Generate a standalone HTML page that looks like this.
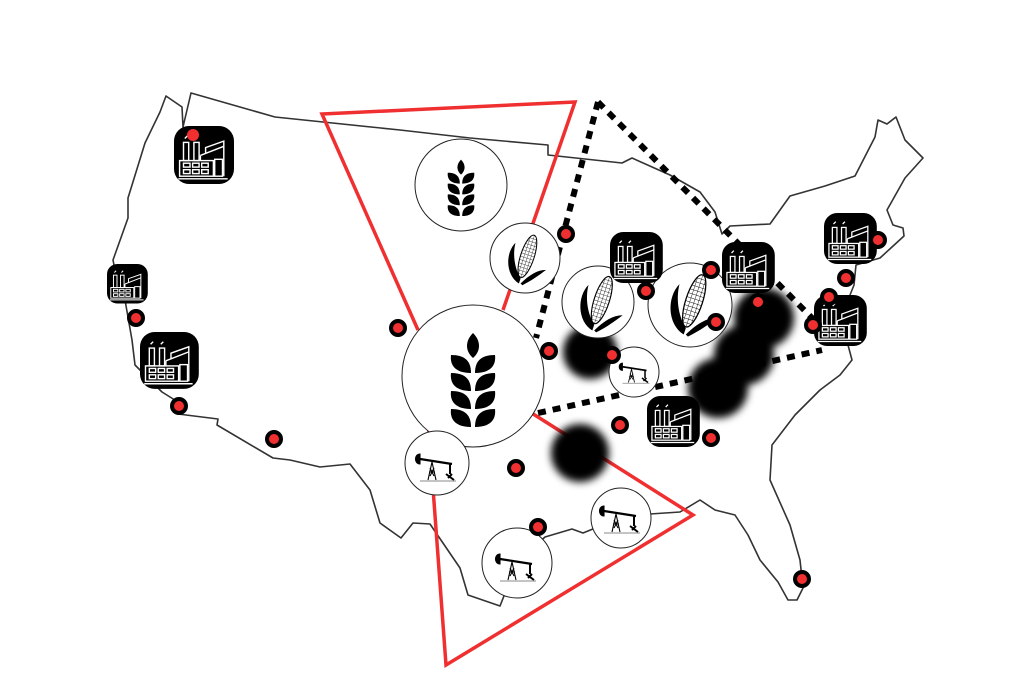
<!DOCTYPE html>
<html><head><meta charset="utf-8"><style>html,body{margin:0;padding:0;background:#fff}svg{display:block}</style></head>
<body>
<svg width="1024" height="682" viewBox="0 0 1024 682" xmlns="http://www.w3.org/2000/svg">
<defs>
<filter id="blur" x="-50%" y="-50%" width="200%" height="200%"><feGaussianBlur stdDeviation="4"/></filter>
<g id="wheat">
<path d="M0,-44 C8,-36 8,-26 0,-19 C-8,-26 -8,-36 0,-44Z" fill="#000"/>
<g id="lp"><path d="M-2,-4 C-20,-4 -23,-14 -22,-22 C-8,-22 -2,-16 -2,-4Z" fill="#000"/>
<path d="M2,-4 C20,-4 23,-14 22,-22 C8,-22 2,-16 2,-4Z" fill="#000"/></g>
<use href="#lp" y="18"/><use href="#lp" y="36"/><use href="#lp" y="54"/>
</g>
<g id="fac">
<rect x="0" y="0" width="60" height="58" rx="15" fill="#000"/>
<g fill="none" stroke="#fff" stroke-width="1.1" transform="translate(29,32) scale(1.3) translate(-28,-32)">
<rect x="13" y="20" width="4" height="14"/><rect x="21" y="20" width="4" height="14"/>
<path d="M14,17 l2,-2 M22,17 l2,-2"/>
<path d="M26,30 L44,23 L44,46 M26,34 L26,30 M30,28 L30,24 L44,19 L44,23"/>
<rect x="10" y="34" width="26" height="12"/>
<rect x="13" y="36" width="5" height="3"/><rect x="20" y="36" width="5" height="3"/><rect x="27" y="36" width="5" height="3"/>
<rect x="13" y="41" width="5" height="3"/><rect x="20" y="41" width="5" height="3"/><rect x="27" y="41" width="5" height="3"/>
<rect x="37" y="33" width="6" height="13"/>
<path d="M9,48 L47,48"/>
</g>
</g>
<pattern id="hatch" width="4" height="4" patternUnits="userSpaceOnUse"><path d="M0,0 L4,0 M0,0 L0,4" stroke="#000" stroke-width="0.8"/></pattern>
<g id="corn">
<path d="M-6,30 C-22,20 -22,-6 -10,-18 C-14,-2 -10,14 -4,24 Z" fill="#000"/>
<ellipse cx="4" cy="-2" rx="8" ry="26" transform="rotate(18 4 -2)" fill="url(#hatch)" stroke="#000" stroke-width="1.2"/>
<path d="M-4,30 C6,20 16,14 26,14 C18,20 10,26 -2,32 Z" fill="#000"/>
</g>
<g id="oil" fill="none" stroke="#000" stroke-width="1.1">
<path d="M-18,-12 C-24,-12 -24,-2 -18,-2 Z" fill="#000"/>
<path d="M-18,-7 L14,-2" stroke-width="2.2"/>
<path d="M-10,14 L-6,-4 L-2,14 M-9,6 L-3,6 M-8,10 L-4,2 M-8,2 L-4,10"/>
<path d="M12,-2 L12,8 M8,8 L16,14 M10,12 l4,-4" stroke-width="2"/>
<path d="M-18,15 L18,15" stroke="#888"/>
</g>
</defs>
<rect width="1024" height="682" fill="#fff"/>
<path fill="#fff" stroke="#333" stroke-width="1.6" stroke-linejoin="round" d="M191,93 L275,117 L400,130 L470,138 L548,145 L548,155 L622,163 L632,158 L670,175 L700,192 L715,212 L722,234 L730,226 L770,224 L790,196 L825,186 L855,176 L875,137 L878,120 L887,124 L896,117 L905,140 L923,158 L905,178 L887,210 L893,225 L903,228 L904,236 L880,258 L856,265 L854,285 L848,300 L848,345 L852,360 L840,375 L820,390 L795,415 L772,445 L770,480 L790,525 L800,560 L803,588 L797,600 L788,600 L778,582 L760,560 L748,535 L735,515 L715,510 L700,500 L680,512 L650,514 L620,518 L583,533 L572,529 L545,537 L517,563 L500,606 L468,595 L460,568 L430,524 L413,523 L401,538 L380,523 L370,490 L350,464 L320,467 L290,460 L273,458 L217,425 L218,419 L178,414 L178,402 L162,392 L135,365 L132,340 L125,300 L118,285 L113,260 L128,218 L128,198 L145,143 L160,112 L166,96 L182,107 L183,127 L191,93 Z"/>
<g fill="none" stroke="#f03030" stroke-width="3.5" stroke-linejoin="miter">
<path d="M418,330 L322,114 L575,102 L503,310"/>
<path d="M530,412 L693,515 L446,665 L428,420"/>
</g>
<g fill="none" stroke="#000" stroke-width="6" stroke-dasharray="8 7">
<path d="M598,102 L536,338"/>
<path d="M598,102 L820,326"/>
<path d="M538,413 L822,350"/>
</g>
<g fill="#000" filter="url(#blur)">
<circle cx="590" cy="352" r="27"/>
<circle cx="764" cy="318" r="30"/>
<circle cx="744" cy="355" r="30"/>
<circle cx="718" cy="388" r="30"/>
<circle cx="580" cy="453" r="29"/>
</g>
<g fill="#fff" stroke="#222" stroke-width="1">
<circle cx="461" cy="185" r="46"/>
<circle cx="525" cy="258" r="35"/>
<circle cx="473" cy="376" r="71"/>
<circle cx="598" cy="302" r="36"/>
<circle cx="690" cy="305" r="42"/>
<circle cx="634" cy="372" r="25"/>
<circle cx="437" cy="463" r="32"/>
<circle cx="621" cy="518" r="30"/>
<circle cx="517" cy="563" r="35"/>
</g>
<use href="#wheat" transform="translate(461,186) scale(0.6)"/>
<use href="#wheat" transform="translate(473,377) scale(1.0)"/>
<use href="#corn" transform="translate(524,258) scale(0.85)"/>
<use href="#corn" transform="translate(598,302) scale(0.95)"/>
<use href="#corn" transform="translate(690,303) scale(1.05)"/>
<use href="#oil" transform="translate(636,372) scale(0.75)"/>
<use href="#oil" transform="translate(438,466)"/>
<use href="#oil" transform="translate(622,518)"/>
<use href="#oil" transform="translate(518,566)"/>
<use href="#fac" transform="translate(174,126)"/>
<use href="#fac" transform="translate(107,264) scale(0.68)"/>
<use href="#fac" transform="translate(140,332) scale(0.98)"/>
<use href="#fac" transform="translate(610,232) scale(0.88)"/>
<use href="#fac" transform="translate(722,242) scale(0.88)"/>
<use href="#fac" transform="translate(824,213) scale(0.88)"/>
<use href="#fac" transform="translate(814,295) scale(0.88)"/>
<use href="#fac" transform="translate(647,396) scale(0.88)"/>
<g fill="#f03030" stroke="#000" stroke-width="4">
<circle cx="136" cy="318" r="7"/><circle cx="179" cy="406" r="7"/><circle cx="274" cy="439" r="7"/>
<circle cx="398" cy="328" r="7"/><circle cx="566" cy="234" r="7"/><circle cx="549" cy="351" r="7"/>
<circle cx="612" cy="355" r="7"/><circle cx="646" cy="291" r="7"/><circle cx="716" cy="322" r="7"/>
<circle cx="711" cy="270" r="7"/><circle cx="758" cy="302" r="7"/><circle cx="878" cy="240" r="7"/>
<circle cx="846" cy="278" r="7"/><circle cx="829" cy="297" r="7"/><circle cx="813" cy="325" r="7"/>
<circle cx="620" cy="425" r="7"/><circle cx="711" cy="438" r="7"/><circle cx="516" cy="468" r="7"/>
<circle cx="538" cy="527" r="7"/><circle cx="802" cy="579" r="7"/>
</g>
<circle cx="193" cy="135" r="6" fill="#f03030"/>
</svg>
</body></html>
